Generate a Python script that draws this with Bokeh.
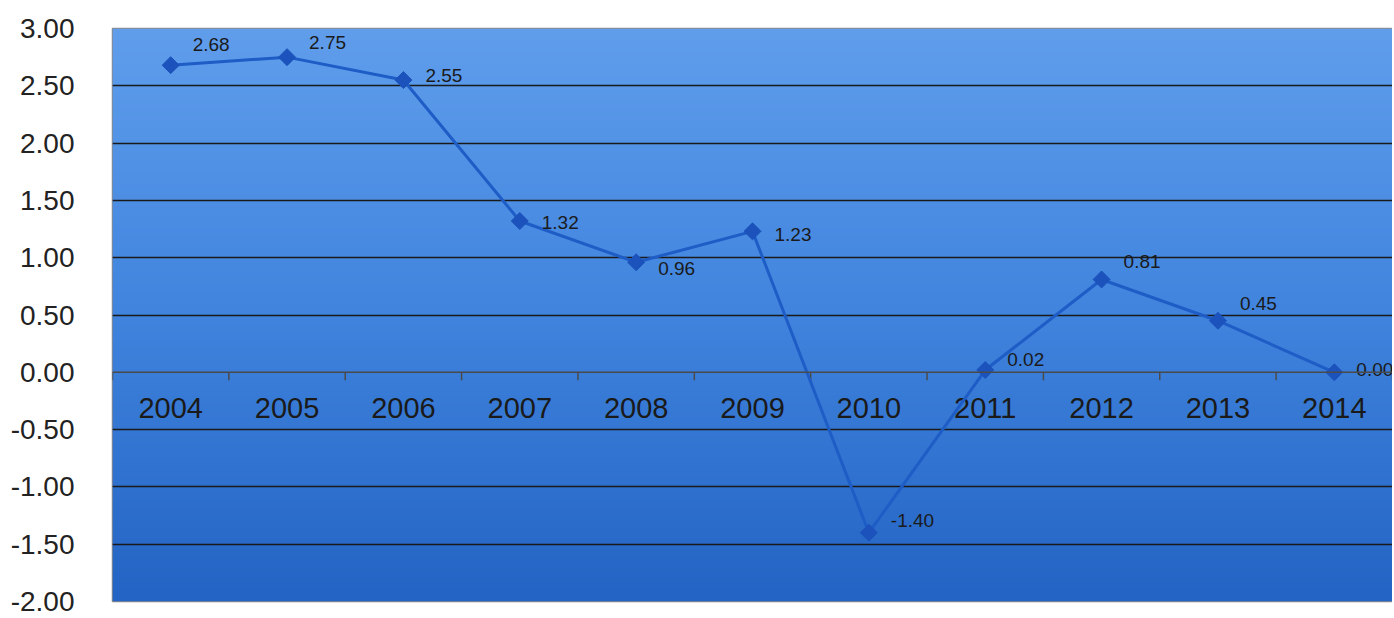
import numpy as np
from bokeh.plotting import figure
from bokeh.models import Range1d, FixedTicker, NumeralTickFormatter, Span, ColumnDataSource
from bokeh.core.properties import value
from bokeh.embed import file_html
from bokeh.resources import INLINE

years = ["2004", "2005", "2006", "2007", "2008", "2009", "2010", "2011", "2012", "2013", "2014"]
values = [2.68, 2.75, 2.55, 1.32, 0.96, 1.23, -1.40, 0.02, 0.81, 0.45, 0.00]
value_labels = ["2.68", "2.75", "2.55", "1.32", "0.96", "1.23", "-1.40", "0.02", "0.81", "0.45", "0.00"]
y_ticks = [-2.0, -1.5, -1.0, -0.5, 0.0, 0.5, 1.0, 1.5, 2.0, 2.5, 3.0]

# label placement offsets (screen px) used by the data labels
label_dy = [-21, -15, -5, 1, 6, 3, -12, -11, -18, -17, -3]

FONT = "Liberation Sans"
xs = list(range(len(years)))

p = figure(width=1392, height=618, output_backend="svg", toolbar_location=None,
           x_range=Range1d(-0.5, len(years) - 0.5), y_range=Range1d(-2.0, 3.0),
           min_border_left=112, min_border_top=28, min_border_right=0, min_border_bottom=17)
p.background_fill_color = "#4a8ade"
p.border_fill_color = "white"
p.outline_line_color = "#8a8a8a"
p.outline_line_width = 1.5

# gradient background
n = 200
t = np.linspace(0, 1, n)[:, None]  # 0 bottom -> 1 top
bottom = np.array([36, 100, 196])
mid = np.array([64, 132, 222])
top = np.array([96, 158, 236])
cols = np.where(t < 0.5, bottom + (mid - bottom) * (t / 0.5), mid + (top - mid) * ((t - 0.5) / 0.5))
img = np.zeros((n, 1), dtype=np.uint32)
view = img.view(dtype=np.uint8).reshape((n, 1, 4))
view[:, 0, 0] = cols[:, 0]
view[:, 0, 1] = cols[:, 1]
view[:, 0, 2] = cols[:, 2]
view[:, 0, 3] = 255
p.image_rgba(image=[img], x=-0.5, y=-2.0, dw=len(years), dh=5.0, level="image")

# axes
p.xaxis.visible = False
p.yaxis.ticker = FixedTicker(ticks=y_ticks)
p.yaxis.formatter = NumeralTickFormatter(format="0.00")
p.yaxis.axis_line_color = None
p.yaxis.major_tick_line_color = None
p.yaxis.minor_tick_line_color = None
p.yaxis.major_label_text_font = FONT
p.yaxis.major_label_text_font_size = "28px"
p.yaxis.major_label_text_color = "#222222"
p.yaxis.major_label_standoff = 32

p.xgrid.visible = False
p.ygrid.ticker = FixedTicker(ticks=[t_ for t_ in y_ticks if t_ not in (-2.0, 0.0, 3.0)])
p.ygrid.grid_line_color = "#1a1a1a"
p.ygrid.grid_line_width = 1.5

# category axis line at zero
p.add_layout(Span(location=0, dimension="width", line_color="#4a4a4a", line_width=1.5))
bounds = [i - 0.5 for i in range(len(years) + 1)]
p.segment(x0=bounds, y0=[0] * len(bounds), x1=bounds, y1=[-0.07] * len(bounds),
          line_color="#4a4a4a", line_width=1.5)
p.text(x=xs, y=[0] * len(xs), text=years, y_offset=36, text_align="center", text_baseline="middle",
       text_font=value(FONT), text_font_size="29px", text_color="#1a1a1a")

# series
src = ColumnDataSource(dict(x=xs, y=values, lab=value_labels, dy=label_dy))
p.line("x", "y", source=src, line_color="#1e5cc6", line_width=3)
p.scatter("x", "y", source=src, marker="square", angle=np.pi / 4, size=12,
          fill_color="#1b52bb", line_color="#1b52bb")
p.text("x", "y", text="lab", source=src, x_offset=22, y_offset="dy", text_align="left",
       text_baseline="middle", text_font=value(FONT), text_font_size="19px", text_color="#1a1a1a")

open("out.html", "w").write(file_html(p, INLINE))
